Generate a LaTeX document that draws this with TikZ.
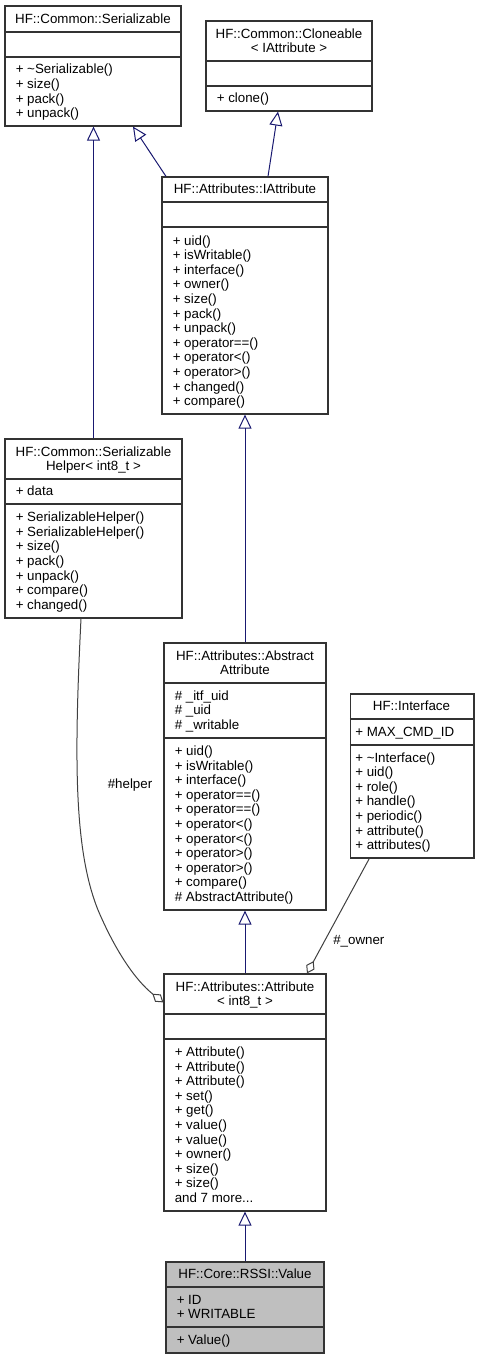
\documentclass[tikz,border=0pt]{standalone}
\usepackage{fontspec}
\setmainfont{Liberation Sans}
\usetikzlibrary{arrows.meta,fit,calc}
\definecolor{edgeblue}{HTML}{191970}
\definecolor{edgegray}{HTML}{404040}
\definecolor{boxline}{HTML}{333333}
\definecolor{grayfill}{HTML}{BFBFBF}
\newcommand\mlines[4]{\foreach \t [count=\i from 0] in {#4} {\node[txt, anchor=base west] (#1\i) at (#2, #3+\i*14.6) {\t};}}
\newcommand\tlines[4]{\foreach \t [count=\i from 0] in {#4} {\node[txt, anchor=base] (#1\i) at (#2, #3+\i*14.6) {\t};}}
\begin{document}
\begin{tikzpicture}[x=0.75pt,y=-0.75pt,
  cls/.style={draw=boxline, line width=0.9pt, inner sep=0pt, fill=white},
  div/.style={draw=boxline, line width=0.9pt},
  txt/.style={inner sep=0pt, font=\fontsize{10pt}{12pt}\selectfont},
  inh/.style={draw=edgeblue, line width=0.75pt, -{Triangle[open, length=10.5pt, width=9.75pt]}},
  use/.style={draw=edgegray, line width=0.75pt, -{Diamond[open, length=10.5pt, width=7pt]}},
]
\useasboundingbox (0,0) rectangle (479,1359);

% HF::Common::Serializable
\node[cls, fit={(5,6)(181,126)}] (ser) {};
\draw[div] (ser.west |- 0,32) -- (ser.east |- 0,32);
\draw[div] (ser.west |- 0,57) -- (ser.east |- 0,57);
\tlines{sert}{93}{23.4}{HF::Common::Serializable}
\mlines{serm}{15.5}{74}{+ \textasciitilde Serializable(), + size(), + pack(), + unpack()}

% HF::Common::Cloneable
\node[cls, fit={(206,21)(372,111)}] (clone) {};
\draw[div] (clone.west |- 0,61) -- (clone.east |- 0,61);
\draw[div] (clone.west |- 0,86) -- (clone.east |- 0,86);
\tlines{clonet}{289}{38.1}{HF::Common::Cloneable, < IAttribute >}
\mlines{clonem}{216.5}{102.9}{+ clone()}

% HF::Attributes::IAttribute
\node[cls, fit={(162,177)(328,414)}] (iattr) {};
\draw[div] (iattr.west |- 0,202) -- (iattr.east |- 0,202);
\draw[div] (iattr.west |- 0,227) -- (iattr.east |- 0,227);
\tlines{iattrt}{245}{193.9}{HF::Attributes::IAttribute}
\mlines{iattrm}{172.5}{245}{+ uid(), + isWritable(), + interface(), + owner(), + size(), + pack(), + unpack(), + operator==(), + operator<(), + operator>(), + changed(), + compare()}

% HF::Common::SerializableHelper
\node[cls, fit={(5,439)(182,618)}] (helper) {};
\draw[div] (helper.west |- 0,479) -- (helper.east |- 0,479);
\draw[div] (helper.west |- 0,504) -- (helper.east |- 0,504);
\tlines{helpert}{93.5}{456.1}{HF::Common::Serializable, Helper< int8\_t >}
\mlines{helpera}{15.5}{495.9}{+ data}
\mlines{helperm}{15.5}{521.6}{+ SerializableHelper(), + SerializableHelper(), + size(), + pack(), + unpack(), + compare(), + changed()}

% HF::Attributes::AbstractAttribute
\node[cls, fit={(164,643)(326,910)}] (abs) {};
\draw[div] (abs.west |- 0,683) -- (abs.east |- 0,683);
\draw[div] (abs.west |- 0,738) -- (abs.east |- 0,738);
\tlines{abst}{245}{660.1}{HF::Attributes::Abstract, Attribute}
\mlines{absa}{174.5}{700.3}{\# \_itf\_uid, \# \_uid, \# \_writable}
\mlines{absm}{174.5}{755.4}{+ uid(), + isWritable(), + interface(), + operator==(), + operator==(), + operator<(), + operator<(), + operator>(), + operator>(), + compare(), \# AbstractAttribute()}

% HF::Interface
\node[cls, fit={(350.5,694)(474,858)}] (iface) {};
\draw[div] (iface.west |- 0,719) -- (iface.east |- 0,719);
\draw[div] (iface.west |- 0,745) -- (iface.east |- 0,745);
\tlines{ifacet}{411.5}{710.9}{HF::Interface}
\mlines{ifacea}{355}{736.4}{+ MAX\_CMD\_ID}
\mlines{ifacem}{355}{762.1}{+ \textasciitilde Interface(), + uid(), + role(), + handle(), + periodic(), + attribute(), + attributes()}

% HF::Attributes::Attribute< int8_t >
\node[cls, fit={(164,974)(326,1211)}] (attr) {};
\draw[div] (attr.west |- 0,1014) -- (attr.east |- 0,1014);
\draw[div] (attr.west |- 0,1039) -- (attr.east |- 0,1039);
\tlines{attrt}{245}{991.1}{HF::Attributes::Attribute, < int8\_t >}
\mlines{attrm}{174.5}{1056.4}{+ Attribute(), + Attribute(), + Attribute(), + set(), + get(), + value(), + value(), + owner(), + size(), + size(), and 7 more.{}.{}.}

% HF::Core::RSSI::Value
\node[cls, fill=grayfill, fit={(166,1262)(324,1353)}] (val) {};
\draw[div] (val.west |- 0,1287) -- (val.east |- 0,1287);
\draw[div] (val.west |- 0,1327) -- (val.east |- 0,1327);
\tlines{valt}{245}{1278.9}{HF::Core::RSSI::Value}
\mlines{vala}{176.5}{1304.1}{+ ID, + WRITABLE}
\mlines{valm}{176.5}{1344.4}{+ Value()}

% inheritance edges
\draw[inh] (helper.north) -- (helper.north |- ser.south);
\draw[inh] ($(iattr.north)+(-79,0)$) -- ($(ser.south)+(40,0)$);
\draw[inh] ($(iattr.north)+(23,0)$) -- ($(clone.south)+(-11,0)$);
\draw[inh] (abs.north) -- (iattr.south);
\draw[inh] (attr.north) -- (abs.south);
\draw[inh] (val.north) -- (attr.south);

% usage edges
\draw[use] ($(helper.south)+(-12.5,0)$) .. controls (74,760) and (74,850) .. (98,910)
  .. controls (115,950) and (135,980) .. ($(attr.north west)+(0,29)$);
\node[txt] (lhelper) at (130,785) {\#helper};
\draw[use] ($(iface.south)+(-43,0)$) -- ($(attr.north)+(62,0)$);
\node[txt, anchor=base west] (lowner) at (333,944) {\#\_owner};
\end{tikzpicture}
\end{document}
